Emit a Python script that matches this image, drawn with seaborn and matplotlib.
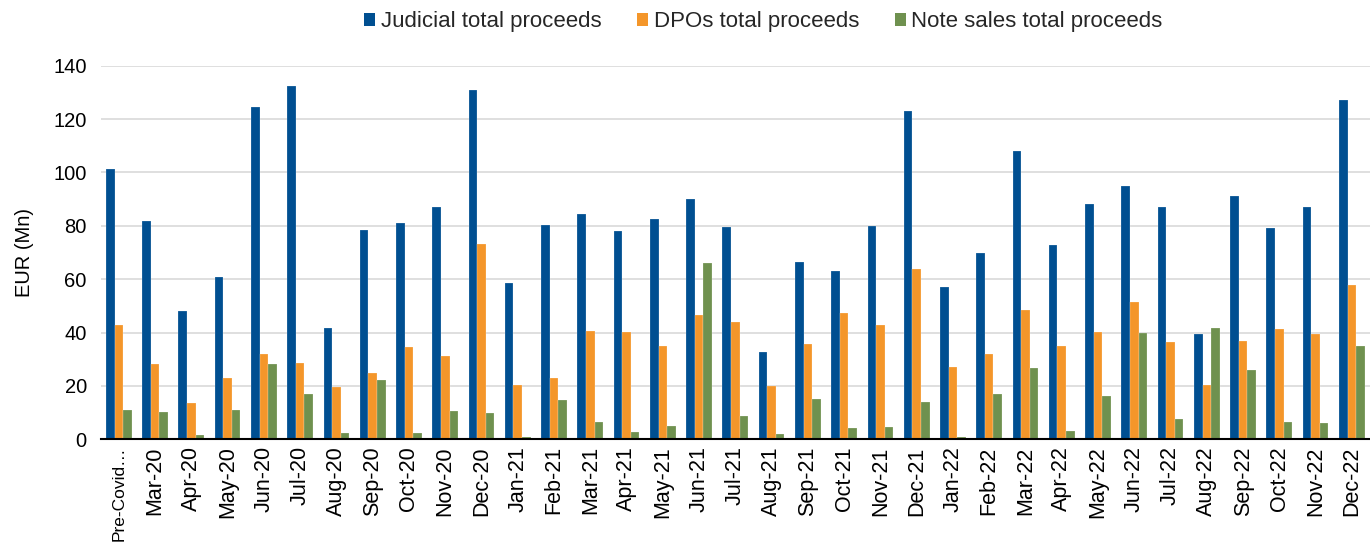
import numpy as np
import pandas as pd
import matplotlib
matplotlib.use("Agg")
import matplotlib.pyplot as plt
import seaborn as sns

categories = ["Pre-Covid…", "Mar-20", "Apr-20", "May-20", "Jun-20", "Jul-20", "Aug-20",
              "Sep-20", "Oct-20", "Nov-20", "Dec-20",
              "Jan-21", "Feb-21", "Mar-21", "Apr-21", "May-21", "Jun-21", "Jul-21",
              "Aug-21", "Sep-21", "Oct-21", "Nov-21", "Dec-21",
              "Jan-22", "Feb-22", "Mar-22", "Apr-22", "May-22", "Jun-22", "Jul-22",
              "Aug-22", "Sep-22", "Oct-22", "Nov-22", "Dec-22"]

judicial = [101.3, 81.7, 48.0, 60.9, 124.4, 132.4, 41.8, 78.4, 81.0, 87.0, 130.9,
            58.4, 80.3, 84.3, 78.0, 82.4, 90.0, 79.5, 32.6, 66.4, 63.2, 79.9, 122.9,
            57.2, 69.9, 107.9, 72.8, 88.0, 95.0, 86.9, 39.6, 91.0, 79.2, 86.9, 127.0]
dpos = [42.7, 28.2, 13.6, 23.0, 32.0, 28.7, 19.5, 24.8, 34.6, 31.1, 73.2,
        20.3, 23.0, 40.6, 40.3, 35.0, 46.4, 43.9, 20.0, 35.6, 47.3, 42.8, 63.8,
        27.1, 32.0, 48.4, 35.0, 40.3, 51.3, 36.3, 20.3, 36.9, 41.2, 39.6, 57.7]
notes = [11.0, 10.1, 1.6, 11.0, 28.2, 17.0, 2.2, 22.2, 2.2, 10.7, 9.7,
         1.0, 14.7, 6.4, 2.9, 5.0, 66.2, 8.6, 2.1, 15.2, 4.1, 4.6, 14.1,
         1.0, 17.1, 26.7, 3.1, 16.2, 39.8, 7.7, 41.6, 25.8, 6.5, 6.2, 35.0]

series_names = ["Judicial total proceeds", "DPOs total proceeds", "Note sales total proceeds"]
colors = ["#004F91", "#F4962A", "#6F914F"]
y_ticks = [0, 20, 40, 60, 80, 100, 120, 140]

df = pd.DataFrame({
    "month": categories * 3,
    "value": judicial + dpos + notes,
    "series": [series_names[0]] * len(categories) + [series_names[1]] * len(categories)
              + [series_names[2]] * len(categories),
})

sns.set_theme(style="white")
plt.rcParams["font.family"] = ["Liberation Sans", "DejaVu Sans"]

fig = plt.figure(figsize=(13.70, 5.46), dpi=100)
ax = fig.add_axes([0.0735, 0.1954, 0.9265, 0.6843])

sns.barplot(data=df, x="month", y="value", hue="series", order=categories,
            hue_order=series_names, palette=colors, width=0.71, ax=ax,
            edgecolor=(1, 1, 1, 0.5), linewidth=0.3, saturation=1, errorbar=None)

ax.set_xlim(-0.5, len(categories) - 0.5)
ax.set_ylim(0, 140)
ax.set_yticks(y_ticks)
ax.set_yticklabels([str(v) for v in y_ticks], fontsize=14.5, color="black")
ax.yaxis.grid(True, color="#D9D9D9", linewidth=1.2)
ax.set_axisbelow(True)
ax.tick_params(axis="y", length=0, pad=10)

ax.set_xticks(np.arange(len(categories)))
ax.set_xticklabels(categories, rotation=90, fontsize=15.5, color="black")
ax.tick_params(axis="x", which="major", length=0, pad=5)
ax.set_xticks(np.arange(len(categories) + 1) - 0.5, minor=True)
ax.tick_params(axis="x", which="minor", length=6, width=1.2, color="black", direction="out")
ax.get_xticklabels()[0].set_fontsize(12.5)

for s in ["top", "right", "left"]:
    ax.spines[s].set_visible(False)
ax.spines["bottom"].set_color("black")
ax.spines["bottom"].set_linewidth(1.5)

ax.set_xlabel("")
ax.set_ylabel("EUR (Mn)", fontsize=14.5, color="black", labelpad=14)

leg = ax.legend(loc="center", bbox_to_anchor=(0.522, 1.117), ncol=3,
                frameon=False, fontsize=16, handlelength=0.5, handleheight=0.5,
                handletextpad=0.25, columnspacing=1.6)
for h in leg.legend_handles:
    h.set_edgecolor("none")

fig.savefig("out.png", dpi=100)
